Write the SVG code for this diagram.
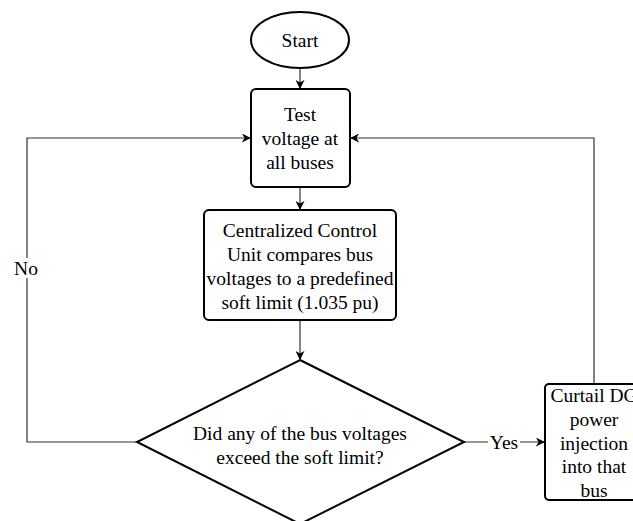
<svg xmlns="http://www.w3.org/2000/svg" width="633" height="521" viewBox="0 0 633 521">
<defs>
<marker id="arr" viewBox="0 0 10 10" refX="9" refY="5" markerWidth="9" markerHeight="9" markerUnits="userSpaceOnUse" orient="auto">
<path d="M0,0 L10,5 L0,10 L3,5 Z" fill="#000"/>
</marker>
<style>
.node{fill:#fff;stroke:#000;stroke-width:2}
.t{font-family:"Liberation Serif","Times New Roman",serif;font-size:19.5px;fill:#000;text-anchor:middle}
.c{fill:none;stroke:#333;stroke-width:1.2}
</style>
</defs>
<rect width="633" height="521" fill="#fff"/>
<g id="connectors">
<path class="c" d="M300,69 V88" marker-end="url(#arr)"/>
<path class="c" d="M300,187 V209" marker-end="url(#arr)"/>
<path class="c" d="M300,321 V359" marker-end="url(#arr)"/>
<path class="c" d="M137,442 H27 V138 H250" marker-end="url(#arr)"/>
<path class="c" d="M464,442 H544" marker-end="url(#arr)"/>
<path class="c" d="M594,384 V138 H351" marker-end="url(#arr)"/>
<rect x="13" y="258" width="28" height="20" fill="#fff"/>
<text class="t" x="26" y="275">No</text>
<rect x="488" y="432" width="32" height="20" fill="#fff"/>
<text class="t" x="504" y="449">Yes</text>
</g>
<g id="start">
<ellipse class="node" cx="300" cy="40" rx="49" ry="28"/>
<text class="t" x="300" y="47">Start</text>
</g>
<g id="test">
<rect class="node" x="251" y="89" width="99" height="98" rx="5"/>
<text class="t" x="300" y="121">Test</text>
<text class="t" x="300" y="145">voltage at</text>
<text class="t" x="300" y="169">all buses</text>
</g>
<g id="compare">
<rect class="node" x="204" y="210" width="192" height="110" rx="5"/>
<text class="t" x="300" y="237">Centralized Control</text>
<text class="t" x="300" y="261">Unit compares bus</text>
<text class="t" x="300" y="285">voltages to a predefined</text>
<text class="t" x="300" y="309">soft limit (1.035 pu)</text>
</g>
<g id="decision">
<polygon class="node" points="300,360 464,442 300,524 137,442"/>
<text class="t" x="300" y="440">Did any of the bus voltages</text>
<text class="t" x="300" y="464">exceed the soft limit?</text>
</g>
<g id="curtail">
<rect class="node" x="545" y="384" width="98" height="116" rx="4"/>
<text class="t" x="594" y="402">Curtail DG</text>
<text class="t" x="594" y="426">power</text>
<text class="t" x="594" y="450">injection</text>
<text class="t" x="594" y="473">into that</text>
<text class="t" x="594" y="497">bus</text>
</g>
</svg>
